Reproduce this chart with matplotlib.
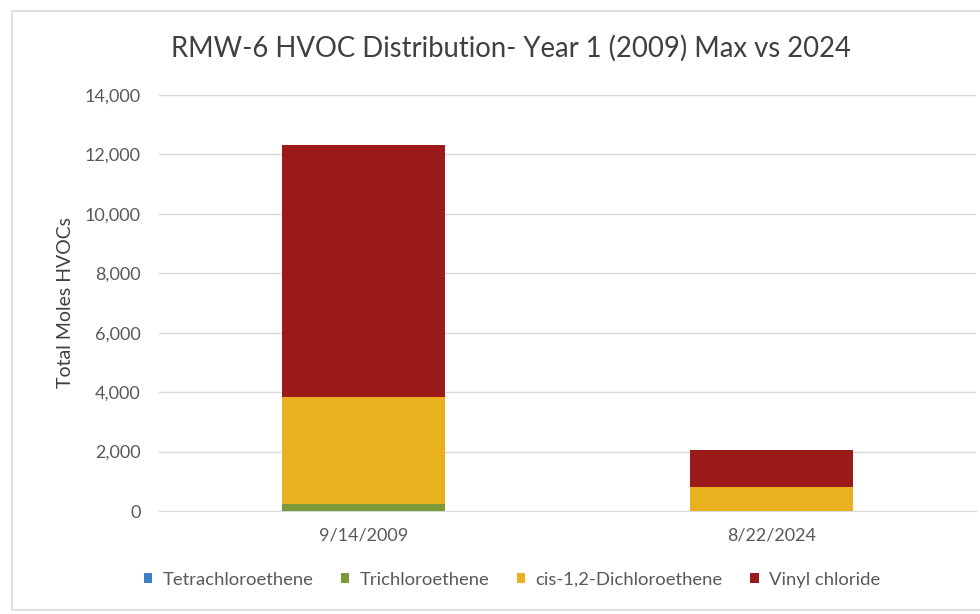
import matplotlib
matplotlib.use("Agg")
import matplotlib.pyplot as plt
from matplotlib.patches import Rectangle
from matplotlib.ticker import FuncFormatter, MultipleLocator
import numpy as np

plt.rcParams['font.family'] = ['Lato', 'DejaVu Sans']

dates = ["9/14/2009", "8/22/2024"]
series_names = ["Tetrachloroethene", "Trichloroethene", "cis-1,2-Dichloroethene", "Vinyl chloride"]
tetrachloroethene = [0, 0]
trichloroethene = [220, 0]
cis_dce = [3620, 800]
vinyl_chloride = [8470, 1250]
colors = ["#3B82C4", "#7A9A3A", "#E9B01F", "#9B1B1B"]

fig = plt.figure(figsize=(9.8, 6.14), dpi=100)
fig.patches.append(Rectangle((12/980, 1 - 610/614), 1.0, (610-11)/614,
                             transform=fig.transFigure, fill=False,
                             edgecolor="#D9D9D9", linewidth=1.2))
ax = fig.add_axes([159/980, (614-511)/614, (976-159)/980, (511-95)/614])

x = np.arange(len(dates))
bottom = np.zeros(len(dates))
for name, vals, c in zip(series_names,
                         [tetrachloroethene, trichloroethene, cis_dce, vinyl_chloride],
                         colors):
    ax.bar(x, vals, width=0.40, bottom=bottom, color=c, label=name, zorder=3)
    bottom += np.array(vals)

ax.set_xlim(-0.5, 1.5)
ax.set_ylim(0, 14000)
ax.yaxis.set_major_locator(MultipleLocator(2000))
ax.yaxis.set_major_formatter(FuncFormatter(lambda v, p: f"{int(v):,}"))
ax.set_xticks(x)
ax.set_xticklabels(dates)
ax.grid(axis="y", color="#D9D9D9", linewidth=1, zorder=0)
for s in ["top", "right", "left"]:
    ax.spines[s].set_visible(False)
ax.spines["bottom"].set_color("#D9D9D9")
ax.tick_params(axis="both", length=0, colors="#595959", labelsize=13)
ax.tick_params(axis="y", pad=13)
ax.tick_params(axis="x", pad=12)

fig.text(65/980, 1 - 303/614, "Total Moles HVOCs", rotation=90,
         ha="center", va="center", fontsize=14, color="#404040")

fig.text(511/980, 1 - 48/614, "RMW-6 HVOC Distribution- Year 1 (2009) Max vs 2024",
         ha="center", va="center", fontsize=19.8, color="#404040")

leg = fig.legend(loc="center", bbox_to_anchor=(512/980, 1 - 580/614), ncol=4,
                 frameon=False, fontsize=13.3, handlelength=0.45, handleheight=0.45,
                 handletextpad=0.55, columnspacing=1.5, borderpad=0)
for t in leg.get_texts():
    t.set_color("#595959")

fig.savefig("out.png", dpi=100)
